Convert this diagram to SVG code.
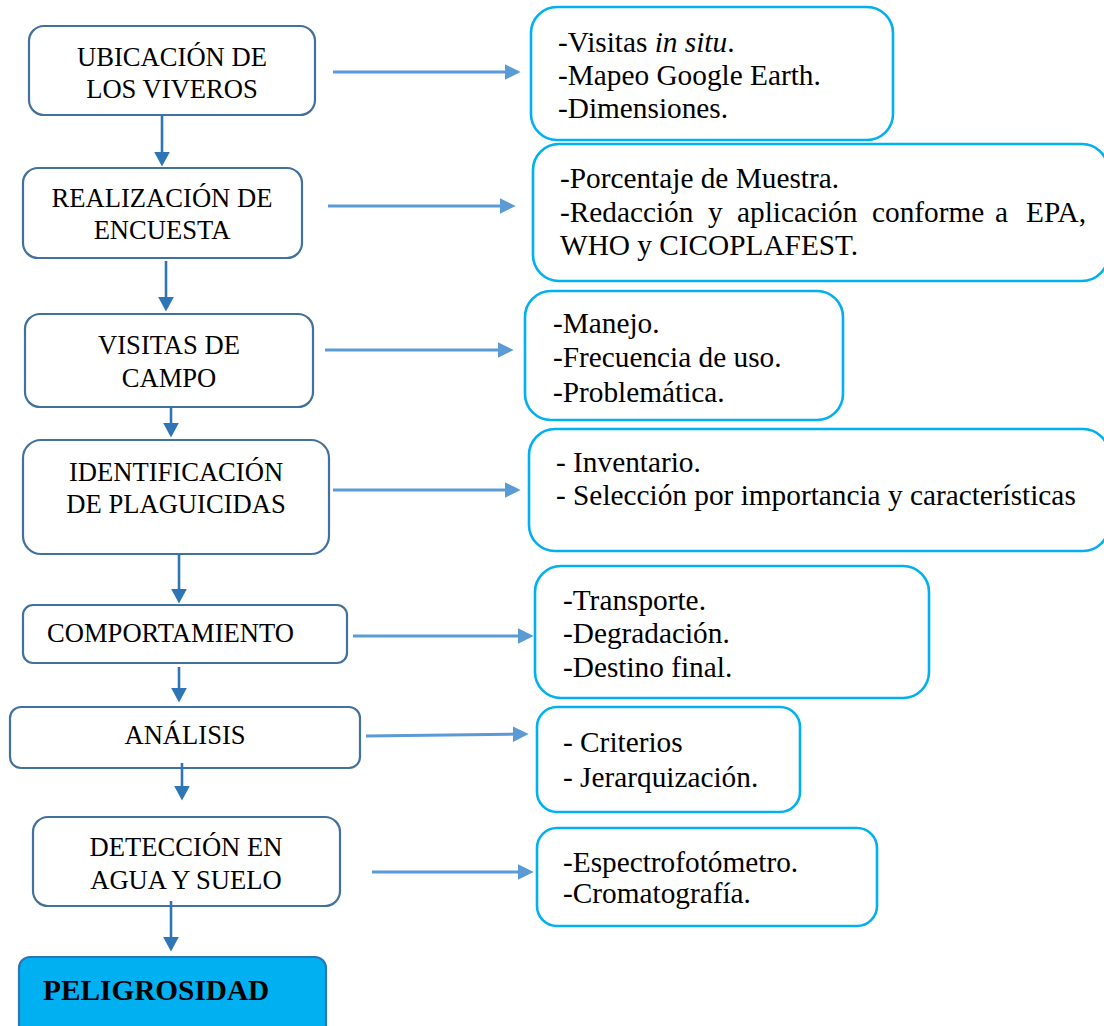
<svg xmlns="http://www.w3.org/2000/svg" width="1104" height="1026" viewBox="0 0 1104 1026">
<style>
.step{fill:#ffffff;stroke:#41719c;stroke-width:2.2}
.info{fill:#ffffff;stroke:#00b0f0;stroke-width:2.6}
.final{fill:#00b0f0;stroke:#2e75b6;stroke-width:2.2}
.lt{font-family:"Liberation Serif","Times New Roman",serif;font-size:26.6px;fill:#000;text-anchor:middle}
.rt{font-family:"Liberation Serif","Times New Roman",serif;font-size:29.3px;fill:#000}
.bt{font-family:"Liberation Serif","Times New Roman",serif;font-size:29.3px;font-weight:bold;fill:#000}
.down{stroke:#2e75b6;stroke-width:2.6;fill:none;marker-end:url(#hd)}
.right{stroke:#5b9bd5;stroke-width:3;fill:none;marker-end:url(#hr)}
</style>
<defs>
<marker id="hd" markerUnits="userSpaceOnUse" markerWidth="16" markerHeight="16" viewBox="0 0 15 15" refX="5" refY="7.5" orient="auto">
<path d="M0,0 L14,7.5 L0,15 z" fill="#2e75b6"/>
</marker>
<marker id="hr" markerUnits="userSpaceOnUse" markerWidth="16" markerHeight="16" viewBox="0 0 15 15" refX="5" refY="7.5" orient="auto">
<path d="M0,0 L15,7.5 L0,15 z" fill="#5b9bd5"/>
</marker>
</defs>
<rect width="1104" height="1026" fill="#ffffff"/>

<g id="n-ubicacion">
<rect class="step" x="29" y="26" width="286" height="89" rx="15"/>
<text class="lt" x="172" y="66">UBICACIÓN DE</text>
<text class="lt" x="172" y="98">LOS VIVEROS</text>
</g>
<g id="n-encuesta">
<rect class="step" x="23" y="168" width="279" height="90" rx="15"/>
<text class="lt" x="162" y="207">REALIZACIÓN DE</text>
<text class="lt" x="162" y="239">ENCUESTA</text>
</g>
<g id="n-visitas">
<rect class="step" x="25" y="314" width="288" height="93" rx="15"/>
<text class="lt" x="169" y="354">VISITAS DE</text>
<text class="lt" x="169" y="387">CAMPO</text>
</g>
<g id="n-identificacion">
<rect class="step" x="23" y="440" width="306" height="114" rx="18"/>
<text class="lt" x="176" y="481">IDENTIFICACIÓN</text>
<text class="lt" x="176" y="513">DE PLAGUICIDAS</text>
</g>
<g id="n-comportamiento">
<rect class="step" x="23" y="605" width="324" height="58" rx="10"/>
<text class="lt" x="47" y="642" style="text-anchor:start">COMPORTAMIENTO</text>
</g>
<g id="n-analisis">
<rect class="step" x="10" y="707" width="350" height="61" rx="11"/>
<text class="lt" x="185" y="744">ANÁLISIS</text>
</g>
<g id="n-deteccion">
<rect class="step" x="33" y="817" width="307" height="89" rx="15"/>
<text class="lt" x="186" y="856">DETECCIÓN EN</text>
<text class="lt" x="186" y="889">AGUA Y SUELO</text>
</g>
<g id="n-peligrosidad">
<rect class="final" x="19" y="957" width="307" height="90" rx="11"/>
<text class="bt" x="43" y="1000">PELIGROSIDAD</text>
</g>

<g id="r-ubicacion">
<rect class="info" x="531" y="7" width="362" height="133" rx="26"/>
<text class="rt" x="558" y="52">-Visitas <tspan font-style="italic">in situ</tspan>.</text>
<text class="rt" x="558" y="85">-Mapeo Google Earth.</text>
<text class="rt" x="558" y="118">-Dimensiones.</text>
</g>
<g id="r-encuesta">
<rect class="info" x="533" y="144" width="575" height="137" rx="26"/>
<text class="rt" x="560" y="188">-Porcentaje de Muestra.</text>
<text class="rt" y="222"><tspan x="560">-Redacción</tspan><tspan x="708">y</tspan><tspan x="737">aplicación</tspan><tspan x="872">conforme</tspan><tspan x="995">a</tspan><tspan x="1026">EPA,</tspan></text>
<text class="rt" x="560" y="255">WHO y CICOPLAFEST.</text>
</g>
<g id="r-visitas">
<rect class="info" x="525" y="291" width="318" height="129" rx="26"/>
<text class="rt" x="553" y="333">-Manejo.</text>
<text class="rt" x="553" y="367">-Frecuencia de uso.</text>
<text class="rt" x="553" y="402">-Problemática.</text>
</g>
<g id="r-identificacion">
<rect class="info" x="529" y="429" width="580" height="122" rx="26"/>
<text class="rt" x="556" y="472">- Inventario.</text>
<text class="rt" x="556" y="505">- Selección por importancia y características</text>
</g>
<g id="r-comportamiento">
<rect class="info" x="535" y="566" width="394" height="132" rx="26"/>
<text class="rt" x="563" y="610">-Transporte.</text>
<text class="rt" x="563" y="643">-Degradación.</text>
<text class="rt" x="563" y="677">-Destino final.</text>
</g>
<g id="r-analisis">
<rect class="info" x="537" y="707" width="263" height="105" rx="20"/>
<text class="rt" x="563" y="752">- Criterios</text>
<text class="rt" x="563" y="787">- Jerarquización.</text>
</g>
<g id="r-deteccion">
<rect class="info" x="537" y="828" width="340" height="98" rx="20"/>
<text class="rt" x="563" y="872">-Espectrofotómetro.</text>
<text class="rt" x="563" y="903">-Cromatografía.</text>
</g>

<g id="connectors">
<line class="down" x1="162" y1="115" x2="162" y2="157"/>
<line class="down" x1="166" y1="261" x2="166" y2="302"/>
<line class="down" x1="171" y1="407" x2="171" y2="428"/>
<line class="down" x1="179" y1="554" x2="179" y2="594"/>
<line class="down" x1="179" y1="667" x2="179" y2="693"/>
<line class="down" x1="182" y1="763" x2="182" y2="791"/>
<line class="down" x1="171" y1="901" x2="171" y2="942"/>
<line class="right" x1="333" y1="72" x2="510" y2="72"/>
<line class="right" x1="328" y1="206" x2="505" y2="206"/>
<line class="right" x1="325" y1="350" x2="503" y2="350"/>
<line class="right" x1="333" y1="490" x2="510" y2="490"/>
<line class="right" x1="353" y1="636" x2="523" y2="636"/>
<line class="right" x1="366" y1="736" x2="518" y2="734.1"/>
<line class="right" x1="372" y1="872" x2="523" y2="872"/>
</g>
</svg>
